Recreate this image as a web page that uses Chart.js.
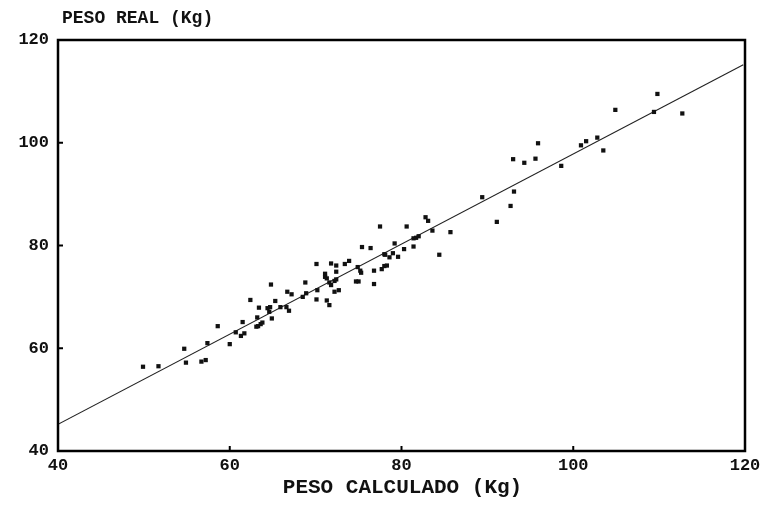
<!DOCTYPE html>
<html>
<head>
<meta charset="utf-8">
<script src="https://cdn.jsdelivr.net/npm/chart.js@4.4.1/dist/chart.umd.min.js"></script>
<style>
    html, body { margin: 0; padding: 0; background: #fff; }
    #wrap { width: 761px; height: 505px; }
</style>
</head>
<body>
<div id="wrap"><canvas id="myChart" width="761" height="505"></canvas></div>
<script>
// peso calculado (x) / peso real (y)
var pesoCalculado = [
    49.9, 51.7, 54.7, 54.9, 56.7, 57.2, 57.4, 58.6, 60.0, 60.7,
    61.3, 61.7, 61.5, 62.4, 63.1, 63.3, 63.6, 63.8, 63.2, 63.4,
    64.4, 64.7, 64.6, 64.9, 65.3, 64.8, 65.9, 66.6, 66.9, 66.7,
    67.2, 68.5, 68.9, 68.8, 70.1, 70.2, 70.1, 71.3, 71.6, 71.8,
    72.4, 73.4, 73.9, 71.1, 71.1, 71.3, 72.4, 74.9, 75.2, 75.3,
    76.8, 77.7, 78.0, 78.3, 71.6, 71.8, 72.4, 72.2, 74.7, 75.0,
    76.8, 72.2, 72.7, 75.4, 76.4, 77.5, 78.1, 78.6, 78.0, 79.0,
    79.6, 79.2, 80.3, 80.6, 81.4, 81.7, 82.0, 81.4, 82.8, 83.1,
    83.6, 84.4, 85.7, 89.4, 91.1, 92.7, 93.1, 93.0, 94.3, 95.6,
    95.9, 98.6, 100.9, 101.5, 102.8, 103.5, 104.9, 109.8, 109.4, 112.7
];
var pesoReal = [
    56.4, 56.5, 59.9, 57.2, 57.4, 57.7, 61.0, 64.3, 60.8, 63.1,
    62.4, 62.9, 65.1, 69.4, 64.2, 64.3, 64.7, 65.0, 66.0, 67.9,
    67.8, 68.0, 67.1, 65.8, 69.2, 72.4, 68.0, 68.0, 67.3, 71.0,
    70.5, 70.0, 70.7, 72.8, 76.4, 71.3, 69.5, 69.3, 68.4, 76.5,
    76.1, 76.4, 77.0, 74.5, 73.9, 73.6, 74.9, 75.8, 75.1, 74.7,
    75.1, 75.4, 76.0, 76.1, 72.8, 72.3, 73.4, 73.1, 73.0, 73.0,
    72.5, 71.0, 71.3, 79.7, 79.5, 83.7, 78.2, 77.7, 78.3, 78.5,
    77.8, 80.4, 79.3, 83.7, 81.4, 81.5, 81.8, 79.8, 85.5, 84.8,
    82.9, 78.2, 82.6, 89.4, 84.6, 87.7, 90.5, 96.8, 96.1, 96.9,
    99.9, 95.5, 99.5, 100.3, 101.0, 98.5, 106.4, 109.5, 106.0, 105.7
];

// recta de regresion
var rectaX = [40, 119.8];
var rectaY = [45.2, 115.2];

var axisTicks = [40, 60, 80, 100, 120];

var yTitle = "PESO REAL (Kg)";
var xTitle = "PESO CALCULADO (Kg)";

var fontFamily = "'Liberation Mono', 'DejaVu Sans Mono', monospace";

var toXY = (xs, ys) => {
    let data = [];
    for (let i = 0; i < xs.length; i++) {
        data.push({ x: xs[i], y: ys[i] });
    }
    return data;
}

// frame, inward ticks and the two axis titles
var framePlugin = {
    id: 'frame',
    afterDraw: (chart) => {
        const ctx = chart.ctx;
        const area = chart.chartArea;
        const xScale = chart.scales.x;
        const yScale = chart.scales.y;
        ctx.save();
        ctx.strokeStyle = '#000';
        ctx.lineWidth = 2.5;
        ctx.strokeRect(area.left, area.top, area.right - area.left, area.bottom - area.top);

        ctx.lineWidth = 2;
        for (let i = 1; i < axisTicks.length - 1; i++) {
            let px = xScale.getPixelForValue(axisTicks[i]);
            ctx.beginPath();
            ctx.moveTo(px, area.bottom);
            ctx.lineTo(px, area.bottom - 5);
            ctx.stroke();
            let py = yScale.getPixelForValue(axisTicks[i]);
            ctx.beginPath();
            ctx.moveTo(area.left, py);
            ctx.lineTo(area.left + 5, py);
            ctx.stroke();
        }

        ctx.fillStyle = '#111';
        ctx.textBaseline = 'middle';
        ctx.textAlign = 'left';
        ctx.font = "bold 18px " + fontFamily;
        ctx.fillText(yTitle, area.left + 4, 18);
        ctx.textAlign = 'center';
        ctx.font = "bold 21px " + fontFamily;
        ctx.fillText(xTitle, (area.left + area.right) / 2 + 1, 488);
        ctx.restore();
    }
};

window.onload = () => {
    const ctx = document.getElementById('myChart').getContext('2d');

    const data = {
        datasets: [{
            label: 'Peso',
            data: toXY(pesoCalculado, pesoReal),
            backgroundColor: '#111',
            borderColor: '#111',
            pointStyle: 'rect',
            pointRadius: 3,
            borderWidth: 0,
            showLine: false
        },
        {
            label: 'Regresion',
            data: toXY(rectaX, rectaY),
            showLine: true,
            borderColor: '#222',
            borderWidth: 1.1,
            pointRadius: 0,
            fill: false
        }]
    };

    const tickFont = { family: fontFamily, size: 17, weight: 'bold' };

    new Chart(ctx, {
        type: 'scatter',
        data: data,
        plugins: [framePlugin],
        options: {
            responsive: false,
            animation: false,
            devicePixelRatio: 1,
            layout: { padding: { top: 40, right: 16, left: 0, bottom: 0 } },
            plugins: {
                legend: { display: false },
                tooltip: { enabled: false }
            },
            scales: {
                x: {
                    type: 'linear',
                    min: 40,
                    max: 120,
                    afterBuildTicks: (scale) => {
                        scale.ticks = axisTicks.map(v => ({ value: v }));
                    },
                    afterFit: (scale) => {
                        scale.height = 54;
                        scale.paddingLeft = 0;
                        scale.paddingRight = 0;
                    },
                    grid: { display: false, drawTicks: false },
                    border: { display: false },
                    ticks: { color: '#111', font: tickFont, padding: 5, maxRotation: 0 }
                },
                y: {
                    type: 'linear',
                    min: 40,
                    max: 120,
                    afterBuildTicks: (scale) => {
                        scale.ticks = axisTicks.map(v => ({ value: v }));
                    },
                    afterFit: (scale) => {
                        scale.width = 58;
                        scale.paddingTop = 0;
                        scale.paddingBottom = 0;
                    },
                    grid: { display: false, drawTicks: false },
                    border: { display: false },
                    ticks: { color: '#111', font: tickFont, padding: 9 }
                }
            }
        }
    });
}
</script>
</body>
</html>
